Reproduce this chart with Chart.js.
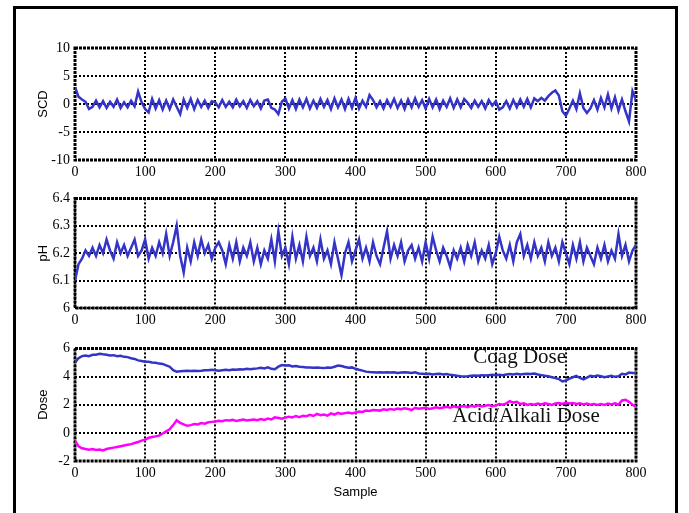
<!DOCTYPE html>
<html>
<head>
<meta charset="utf-8">
<script src="https://cdn.jsdelivr.net/npm/chart.js@4.4.1/dist/chart.umd.min.js"></script>
<style>
  html, body { margin: 0; padding: 0; background: #fff; }
  #wrap { position: relative; width: 689px; height: 513px; overflow: hidden; }
  #frame { position: absolute; left: 13px; top: 6px; width: 659px; height: 520px; border: 3px solid #000; }
  canvas { position: absolute; left: 0; }
</style>
</head>
<body>
<div id="wrap">
  <div id="frame"></div>
  <canvas id="scdChart" width="689" height="190" style="top:0px"></canvas>
  <canvas id="phChart" width="689" height="155" style="top:185px"></canvas>
  <canvas id="doseChart" width="689" height="178" style="top:335px"></canvas>
</div>
<script>
// one value every 5 samples
const STEP = 5;
const xTicks = [0, 100, 200, 300, 400, 500, 600, 700, 800];

const scd = [
  3.0, 1.3, 0.8, 0.4, -0.9, -0.5, 0.6, -0.6, 0.5, -0.7,
  0.4, -0.5, 0.8, -0.7, 0.3, -0.6, 0.6, -0.4, 2.2, 0.3,
  -0.9, -1.5, 0.9, -0.8, 0.7, -1.0, 0.6, -0.9, 0.8, -0.5,
  -1.8, 0.8, -0.7, 0.9, -0.9, 0.7, -0.5, 0.6, -0.7, 0.5,
  0.3, -0.6, 0.7, -0.5, 0.4, -0.6, 0.8, -0.4, 0.5, -0.7,
  0.7, -0.4, 0.5, -0.8, 0.6, 0.8, -0.7, -1.0, -1.8, 0.4,
  1.0, -0.8, 0.7, -0.9, 0.8, -0.6, 0.9, -0.8, 0.6, -0.7,
  0.9, -0.5, 0.7, -0.9, 1.0, -0.6, 0.8, -0.9, 0.9, -0.7,
  1.1, -0.8, 0.6, -0.5, 1.6, 0.7, -0.6, 0.5, -0.8, 0.7,
  -0.5, 0.9, -0.7, 0.6, -0.9, 0.8, -0.6, 1.0, -0.5, 0.7,
  -0.8, 0.9, -0.6, 0.8, -0.9, 0.6, -0.5, 1.0, -0.7, 0.8,
  -0.6, 0.9, 0.2, -0.7, 0.6, -0.5, 0.5, -0.8, 0.7, -0.3,
  0.5, -1.0, -0.6, 0.5, -0.8, 0.7, -0.6, 0.8, -0.5, 0.9,
  -0.6, 1.0, 0.5, 1.1, 0.6, 1.4, 2.0, 2.4, 1.5, -1.3,
  -2.1, -0.8, 0.6, -0.9, 1.9, -0.7, -1.6, -0.8, 0.7, -1.0,
  1.1, -0.6, 1.7, -0.8, 1.2, -1.2, 0.8, -1.3, -3.1, 2.3,
  0.7
];

const ph = [
  6.10, 6.16, 6.18, 6.21, 6.19, 6.22, 6.19, 6.23, 6.20, 6.25,
  6.21, 6.18, 6.24, 6.20, 6.23, 6.19, 6.22, 6.25, 6.19, 6.21,
  6.25, 6.18, 6.22, 6.19, 6.24, 6.20, 6.27, 6.19, 6.24, 6.30,
  6.19, 6.13, 6.22, 6.17, 6.24, 6.19, 6.25, 6.20, 6.23, 6.18,
  6.22, 6.24, 6.21, 6.16, 6.23, 6.18, 6.24, 6.17, 6.22, 6.19,
  6.24, 6.17, 6.22, 6.16, 6.21, 6.18, 6.25, 6.17, 6.28, 6.19,
  6.22, 6.16, 6.26, 6.18, 6.23, 6.17, 6.26, 6.19, 6.22, 6.17,
  6.25, 6.18, 6.21, 6.16, 6.24, 6.18, 6.12, 6.20, 6.24, 6.17,
  6.21, 6.25, 6.18, 6.22, 6.17, 6.24, 6.19, 6.16, 6.22, 6.28,
  6.18, 6.23, 6.19, 6.24, 6.17, 6.21, 6.23, 6.18, 6.22, 6.17,
  6.24, 6.18, 6.26, 6.21, 6.17, 6.22, 6.19, 6.15, 6.21, 6.18,
  6.22, 6.17, 6.23, 6.19, 6.24, 6.17, 6.21, 6.18, 6.23, 6.16,
  6.20, 6.26, 6.21, 6.18, 6.23, 6.17, 6.24, 6.27, 6.19, 6.23,
  6.18, 6.24, 6.19, 6.22, 6.17, 6.24, 6.19, 6.22, 6.17, 6.24,
  6.20, 6.16, 6.23, 6.18, 6.24, 6.17, 6.22, 6.19, 6.16, 6.22,
  6.18, 6.23, 6.17, 6.21, 6.18, 6.27, 6.19, 6.23, 6.17, 6.21,
  6.23
];

const coagDose = [
  5.00, 5.30, 5.45, 5.50, 5.45, 5.55, 5.55, 5.62, 5.58, 5.55,
  5.50, 5.52, 5.45, 5.48, 5.40, 5.38, 5.30, 5.25, 5.15, 5.10,
  5.05, 5.05, 5.00, 4.98, 4.92, 4.90, 4.80, 4.70, 4.45, 4.35,
  4.38, 4.40, 4.42, 4.40, 4.42, 4.40, 4.42, 4.45, 4.45, 4.48,
  4.45, 4.42, 4.45, 4.48, 4.45, 4.50, 4.48, 4.52, 4.50, 4.55,
  4.52, 4.55, 4.58, 4.62, 4.58, 4.65, 4.55, 4.52, 4.70, 4.82,
  4.78, 4.80, 4.72, 4.75, 4.70, 4.68, 4.65, 4.65, 4.62, 4.65,
  4.62, 4.60, 4.65, 4.62, 4.70, 4.78, 4.75, 4.68, 4.62, 4.65,
  4.55, 4.48, 4.42, 4.35, 4.32, 4.30, 4.28, 4.30, 4.28, 4.30,
  4.28, 4.30, 4.25, 4.28, 4.30, 4.28, 4.25, 4.30, 4.22, 4.20,
  4.18, 4.20, 4.15, 4.18, 4.20, 4.15, 4.18, 4.12, 4.10, 4.05,
  4.02, 4.00, 4.02, 4.05, 4.08, 4.05, 4.10, 4.08, 4.10, 4.12,
  4.10, 4.12, 4.10, 4.15, 4.18, 4.15, 4.20, 4.15, 4.18, 4.20,
  4.18, 4.22, 4.15, 4.10, 4.05, 4.02, 3.95, 3.90, 3.82, 3.65,
  3.72, 3.85, 3.95, 4.05, 3.90, 3.80, 3.92, 4.05, 4.00, 4.08,
  4.02, 3.95, 4.00, 4.05, 3.98, 4.02, 4.20, 4.15, 4.28, 4.25,
  4.25
];

const acidAlkaliDose = [
  -0.55, -0.95, -1.10, -1.15, -1.20, -1.15, -1.22, -1.18, -1.25, -1.15,
  -1.10, -1.05, -1.00, -0.95, -0.90, -0.85, -0.80, -0.72, -0.65, -0.55,
  -0.48, -0.35, -0.30, -0.25, -0.20, -0.05, 0.10, 0.25, 0.55, 0.90,
  0.70, 0.60, 0.50, 0.55, 0.62, 0.60, 0.70, 0.65, 0.75, 0.78,
  0.80, 0.85, 0.82, 0.90, 0.88, 0.92, 0.85, 0.90, 0.95, 0.88,
  0.92, 0.95, 0.90, 0.98, 0.92, 1.02, 0.95, 1.10, 1.05, 1.00,
  1.08, 1.15, 1.10, 1.20, 1.12, 1.22, 1.18, 1.28, 1.20, 1.35,
  1.25, 1.30, 1.22, 1.38, 1.30, 1.42, 1.35, 1.40, 1.45, 1.38,
  1.45, 1.52, 1.48, 1.58, 1.55, 1.62, 1.60, 1.58, 1.68, 1.62,
  1.70, 1.65, 1.72, 1.68, 1.75, 1.70, 1.62, 1.78, 1.72, 1.75,
  1.78, 1.70, 1.75, 1.82, 1.75, 1.80, 1.85, 1.78, 1.88, 1.82,
  1.85, 1.90, 1.82, 1.92, 1.86, 1.95, 1.88, 1.92, 1.98, 1.90,
  1.95, 2.05, 2.00, 2.10, 2.25, 2.15, 2.20, 2.05, 2.10, 1.98,
  2.05, 2.00, 2.08, 2.02, 2.10, 2.05, 1.98, 2.08, 2.12, 2.05,
  2.15, 2.08, 2.12, 2.05, 2.10, 2.02, 2.08, 2.00, 2.05, 1.98,
  2.05, 1.98, 2.08, 2.02, 2.10, 2.00, 2.30, 2.35, 2.20, 2.00,
  1.85
];

// text labels inside the dose panel, in data units
const doseLabels = [
  { text: 'Coag Dose', x: 568, y: 4.95 },
  { text: 'Acid/Alkali Dose', x: 538, y: 0.8 }
];

const BLUE = '#3434c8';
const MAGENTA = '#ff00ff';

function toPoints(values) {
    return values.map((v, i) => ({ x: i * STEP, y: v }));
}

const framePlugin = {
    id: 'frame',
    beforeDatasetsDraw(chart) {
        const a = chart.chartArea;
        const ctx = chart.ctx;
        ctx.save();
        ctx.strokeStyle = '#000';
        ctx.lineWidth = 3;
        ctx.setLineDash([3, 1]);
        ctx.strokeRect(a.left, a.top, a.right - a.left, a.bottom - a.top);
        ctx.restore();
    }
};

const labelPlugin = {
    id: 'doseText',
    afterDatasetsDraw(chart, args, opts) {
        if (!opts.items) return;
        const ctx = chart.ctx;
        ctx.save();
        ctx.font = '21px "Liberation Serif", "Times New Roman", serif';
        ctx.fillStyle = '#111';
        ctx.textBaseline = 'alphabetic';
        opts.items.forEach(l => {
            ctx.fillText(l.text, chart.scales.x.getPixelForValue(l.x), chart.scales.y.getPixelForValue(l.y));
        });
        ctx.restore();
    }
};

function makeChart(id, datasets, yOpts, pad, xHeight, withTitle, items) {
    const ctx = document.getElementById(id).getContext('2d');
    return new Chart(ctx, {
        type: 'line',
        data: { datasets: datasets },
        plugins: [framePlugin, labelPlugin],
        options: {
            responsive: false,
            animation: false,
            layout: { padding: { left: 0, right: 53, top: pad.top, bottom: pad.bottom } },
            elements: { point: { radius: 0 }, line: { tension: 0 } },
            plugins: {
                legend: { display: false },
                tooltip: { enabled: false },
                doseText: { items: items }
            },
            scales: {
                x: {
                    type: 'linear',
                    min: 0,
                    max: 800,
                    afterBuildTicks: s => { s.ticks = xTicks.map(v => ({ value: v })); },
                    afterFit: s => { s.height = xHeight; },
                    grid: { color: '#000', lineWidth: 2, drawTicks: false },
                    border: { display: false, dash: [2, 2] },
                    ticks: {
                        color: '#000',
                        padding: 4,
                        maxRotation: 0,
                        font: { family: '"Liberation Serif", "Times New Roman", serif', size: 14 }
                    },
                    title: {
                        display: withTitle,
                        text: 'Sample',
                        color: '#000',
                        padding: { top: 0, bottom: 1 },
                        font: { family: '"Liberation Sans", Arial, sans-serif', size: 13 }
                    }
                },
                y: {
                    min: yOpts.min,
                    max: yOpts.max,
                    afterFit: s => { s.width = 75; },
                    grid: { color: '#000', lineWidth: 2, drawTicks: false },
                    border: { display: false, dash: [2, 2] },
                    ticks: {
                        color: '#000',
                        padding: 5,
                        stepSize: yOpts.step,
                        callback: v => String(+v.toFixed(2)),
                        font: { family: '"Liberation Serif", "Times New Roman", serif', size: 14 }
                    },
                    title: {
                        display: true,
                        text: yOpts.title,
                        color: '#000',
                        padding: { top: 36, bottom: 0 },
                        font: { family: '"Liberation Sans", Arial, sans-serif', size: 13 }
                    }
                }
            }
        }
    });
}

const lineStyle = color => ({
    borderColor: color,
    backgroundColor: color,
    borderWidth: 2.5,
    fill: false
});

makeChart('scdChart',
    [{ label: 'SCD', data: toPoints(scd), ...lineStyle(BLUE) }],
    { min: -10, max: 10, step: 5, title: 'SCD' },
    { top: 48, bottom: 8 }, 22, false, null);

makeChart('phChart',
    [{ label: 'pH', data: toPoints(ph), ...lineStyle(BLUE) }],
    { min: 6, max: 6.4, step: 0.1, title: 'pH' },
    { top: 13, bottom: 10 }, 22, false, null);

makeChart('doseChart',
    [
        { label: 'Coag Dose', data: toPoints(coagDose), ...lineStyle(BLUE) },
        { label: 'Acid/Alkali Dose', data: toPoints(acidAlkaliDose), ...lineStyle(MAGENTA) }
    ],
    { min: -2, max: 6, step: 2, title: 'Dose' },
    { top: 12, bottom: 12 }, 40, true, doseLabels);
</script>
</body>
</html>
